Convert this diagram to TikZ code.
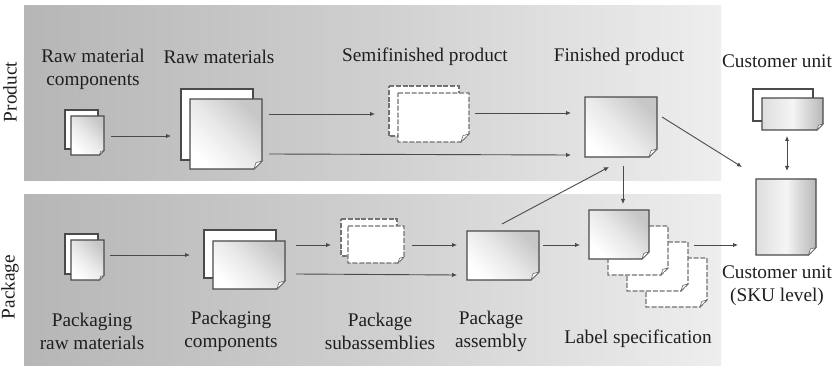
\documentclass[tikz,border=0pt]{standalone}
\usepackage{fontspec}
\setmainfont{Liberation Serif}
\usetikzlibrary{arrows.meta,calc}
\definecolor{ink}{HTML}{4A4A4A}
\tikzset{
  x=1pt,y=-1pt,
  band/.style={draw=none,inner sep=0pt,outer sep=0pt,left color=bandL,right color=bandR,middle color=bandM},
  lbl/.style={font=\fontsize{19.3}{23}\selectfont,align=center,text=black!88,inner sep=0pt},
  conn/.style={draw=ink,line width=0.9pt,-{Latex[length=5pt,width=4.5pt]}},
  biconn/.style={draw=ink,line width=0.9pt,{Latex[length=5pt,width=4.5pt]}-{Latex[length=5pt,width=4.5pt]}},
  holder/.style={inner sep=0pt,outer sep=0pt,draw=none},
  paper/.style={draw=ink,line width=1.1pt,line join=miter},
  shaded paper/.style={paper,shading=axis,left color=white,right color=black!22,middle color=black!9,shading angle=135},
  side paper/.style={paper,shading=axis,left color=black!13,right color=black!28,middle color=black!4,shading angle=90},
  blank paper/.style={paper,fill=white},
  dash paper/.style={draw=black!55,line width=1.1pt,fill=white,dash pattern=on 5pt off 1.8pt},
}
\definecolor{bandL}{HTML}{B6B6B6}
\definecolor{bandM}{HTML}{CFCFCF}
\definecolor{bandR}{HTML}{EEEEEE}
% name, x1, y1, x2, y2, fold size, style
\newcommand{\sheet}[7]{%
  \pgfmathsetmacro{\sw}{#4-#2}\pgfmathsetmacro{\sh}{#5-#3}%
  \pgfmathsetmacro{\cxx}{(#2+#4)/2}\pgfmathsetmacro{\cyy}{(#3+#5)/2}%
  \path[#7] (#2,#3) -- (#4,#3) -- (#4,#5-#6) -- (#4-#6,#5) -- (#2,#5) -- cycle;
  \ifdim #6pt>0pt
    \filldraw[fill=white,draw=black!60,line width=0.6pt] (#4,#5-#6) -- (#4-#6*0.75,#5-#6*0.8) -- (#4-#6,#5) -- cycle;
  \fi
  \node[holder,minimum width=\sw pt,minimum height=\sh pt] (#1) at (\cxx,\cyy) {};
}
\begin{document}
\begin{tikzpicture}
\useasboundingbox (0,0) rectangle (836,366);
\fill[white] (0,0) rectangle (836,366);
\node[band,minimum width=697pt,minimum height=175pt] (prodband) at (372.5,93.5) {};
\node[band,minimum width=697pt,minimum height=171pt] (packband) at (372.5,280.5) {};
\node[lbl,rotate=90] (prodlab) at (10,92) {Product};
\node[lbl,rotate=90] (packlab) at (10,287) {Package};

\sheet{rmcb}{65}{110}{98}{149}{0}{blank paper}
\sheet{rmc}{71}{116}{104}{155}{4.5}{shaded paper}
\sheet{rmb}{181}{89}{253}{160}{0}{blank paper}
\sheet{rm}{190}{99}{262}{169}{8}{shaded paper}
\sheet{sfb}{389}{86}{459}{136}{0}{dash paper}
\sheet{sf}{398}{93}{469}{142}{8}{dash paper}
\sheet{fp}{585}{97}{657}{157}{8}{shaded paper}
\sheet{cub}{753}{89}{813}{121}{0}{blank paper}
\sheet{cu}{762}{98}{823}{130}{6}{side paper}
\sheet{sku}{756}{179}{816}{255}{7.5}{side paper}

\sheet{prmb}{65}{234}{98}{274}{0}{blank paper}
\sheet{prm}{71}{240}{104}{280}{4.5}{shaded paper}
\sheet{pcb}{204}{230}{276}{278}{0}{blank paper}
\sheet{pc}{213}{241}{285}{289}{8}{shaded paper}
\sheet{psb}{341}{219}{397}{256}{0}{dash paper}
\sheet{ps}{348}{226}{404}{263}{6}{dash paper}
\sheet{pa}{467}{231}{539}{280}{8}{shaded paper}
\sheet{ls3}{646}{258}{707}{307}{7}{dash paper}
\sheet{ls2}{627}{242}{688}{291}{7}{dash paper}
\sheet{ls1}{608}{226}{668}{275}{7}{dash paper}
\sheet{ls}{589}{210}{649}{259}{7}{shaded paper}

\node[lbl] (t1) at (93,69.5) {Raw material\\components};
\node[lbl] (t2) at (219,57) {Raw materials};
\node[lbl] (t3) at (425,57) {Semifinished product};
\node[lbl] (t4) at (619,57) {Finished product};
\node[lbl] (t5) at (777,61) {Customer unit};
\node[lbl] (t6) at (92,331.5) {Packaging\\raw materials};
\node[lbl] (t7) at (231,331.5) {Packaging\\components};
\node[lbl] (t8) at (380,331.5) {Package\\subassemblies};
\node[lbl] (t9) at (491,331.5) {Package\\assembly};
\node[lbl] (t10) at (638,339) {Label specification};
\node[lbl] (t11) at (777,286) {Customer unit\\(SKU level)};

\draw[conn] ($(rmc.east)+(7,0.5)$) -- ($(rmb.west)+(-10,11.5)$);
\draw[conn] ($(rm.east)+(7,-20)$) -- ($(sfb.west)+(-14,3)$);
\draw[conn] ($(rm.east)+(7,20)$) -- ($(fp.west)+(-14,28)$);
\draw[conn] ($(sf.east)+(6,-4.5)$) -- ($(fp.west)+(-14,-14)$);
\draw[conn] ($(fp.east)+(5,-10)$) -- ($(sku.west)+(-14,-50)$);
\draw[conn] ($(pa.north)+(-1,-7)$) -- ($(fp.south)+(-12,10)$);
\draw[conn] ($(fp.south)+(2,9)$) -- ($(ls.north)+(4,-6)$);
\draw[biconn] ($(cu.south)+(-5.5,6)$) -- ($(sku.north)+(1,-8)$);
\draw[conn] ($(prm.east)+(6,-5)$) -- ($(pcb.west)+(-14,1)$);
\draw[conn] ($(pc.east)+(11,-20)$) -- ($(psb.west)+(-10,7.5)$);
\draw[conn] ($(pc.east)+(11,9)$) -- ($(pa.west)+(-10,19.5)$);
\draw[conn] ($(ps.east)+(8,0.5)$) -- ($(pa.west)+(-10,-10.5)$);
\draw[conn] ($(pa.east)+(4,-10.5)$) -- ($(ls.west)+(-9,10.5)$);
\draw[conn] ($(ls1.east)+(26,-5.5)$) -- ($(sku.west)+(-18,28)$);
\end{tikzpicture}
\end{document}
